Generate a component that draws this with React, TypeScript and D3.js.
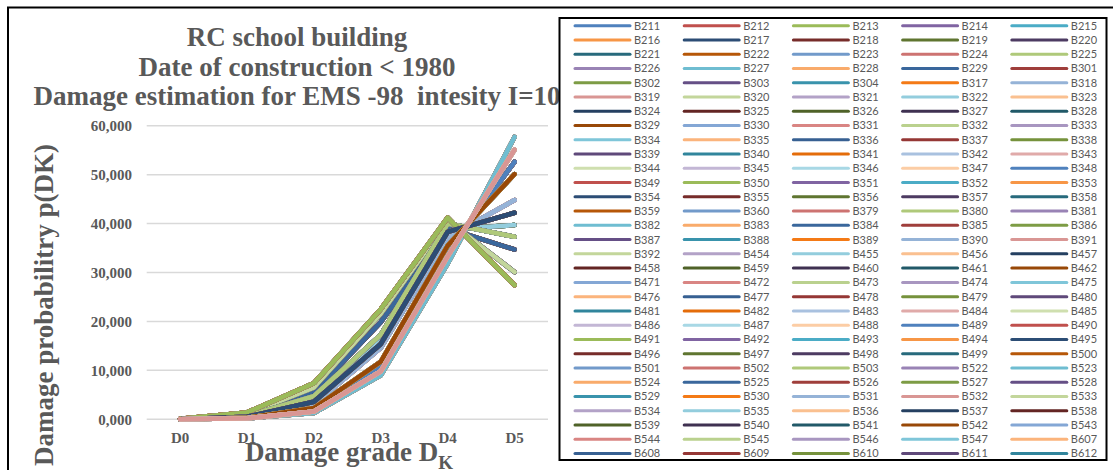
import React from 'react';
import * as d3 from 'd3';

// ---------- data ----------
const categories = ['D0', 'D1', 'D2', 'D3', 'D4', 'D5'];
const yTicks = [0, 10, 20, 30, 40, 50, 60];
const titleLines = [
  'RC school building',
  'Date of construction < 1980',
  'Damage estimation for EMS -98  intesity I=10',
];
const yAxisTitle = 'Damage probabilitry p(DK)';
const xAxisTitle = 'Damage grade D';
const xAxisSub = 'K';

// damage probability (%) per grade D0..D5, one array per distinct profile
const profileA = [0.1, 1.4, 7.4, 22.5, 41.2, 27.4];
const profileB = [0.1, 1.1, 6.5, 21.6, 40.6, 30.1];
const profileC = [0.05, 0.9, 5.5, 19.85, 39.0, 34.7];
const profileD = [0.0, 0.7, 4.7, 17.3, 40.0, 37.3];
const profileE = [0.0, 0.6, 4.2, 16.7, 38.8, 39.7];
const profileF = [0.0, 0.5, 3.6, 15.4, 38.3, 42.2];
const profileG = [0.0, 0.4, 3.0, 14.6, 37.2, 44.8];
const profileH = [0.0, 0.3, 2.3, 11.8, 35.5, 50.1];
const profileI = [0.0, 0.3, 1.9, 11.0, 34.2, 52.6];
const profileJ = [0.0, 0.2, 1.6, 9.8, 33.3, 55.1];
const profileK = [0.0, 0.2, 1.3, 9.0, 31.8, 57.7];

const buildings = [
  'B211', 'B212', 'B213', 'B214', 'B215', 'B216', 'B217', 'B218', 'B219', 'B220',
  'B221', 'B222', 'B223', 'B224', 'B225', 'B226', 'B227', 'B228', 'B229', 'B301',
  'B302', 'B303', 'B304', 'B317', 'B318', 'B319', 'B320', 'B321', 'B322', 'B323',
  'B324', 'B325', 'B326', 'B327', 'B328', 'B329', 'B330', 'B331', 'B332', 'B333',
  'B334', 'B335', 'B336', 'B337', 'B338', 'B339', 'B340', 'B341', 'B342', 'B343',
  'B344', 'B345', 'B346', 'B347', 'B348', 'B349', 'B350', 'B351', 'B352', 'B353',
  'B354', 'B355', 'B356', 'B357', 'B358', 'B359', 'B360', 'B379', 'B380', 'B381',
  'B382', 'B383', 'B384', 'B385', 'B386', 'B387', 'B388', 'B389', 'B390', 'B391',
  'B392', 'B454', 'B455', 'B456', 'B457', 'B458', 'B459', 'B460', 'B461', 'B462',
  'B471', 'B472', 'B473', 'B474', 'B475', 'B476', 'B477', 'B478', 'B479', 'B480',
  'B481', 'B482', 'B483', 'B484', 'B485', 'B486', 'B487', 'B488', 'B489', 'B490',
  'B491', 'B492', 'B493', 'B494', 'B495', 'B496', 'B497', 'B498', 'B499', 'B500',
  'B501', 'B502', 'B503', 'B522', 'B523', 'B524', 'B525', 'B526', 'B527', 'B528',
  'B529', 'B530', 'B531', 'B532', 'B533', 'B534', 'B535', 'B536', 'B537', 'B538',
  'B539', 'B540', 'B541', 'B542', 'B543', 'B544', 'B545', 'B546', 'B547', 'B607',
  'B608', 'B609', 'B610', 'B611', 'B612',
];

// which damage profile each building follows (estimated)
const buildingProfile =
  'IIAAIAFFAIFAIFDDKKCCDFKAGJBGEJBECKIH' +
  'JKHGFADIECB' + 'HJKFGDAICEB' + 'KJHGFIDAEBC' + 'JHKFGADCIEB' +
  'HKJGFDIAEBC' + 'JKHGFAIDCEB' + 'KHJFGDAIEBC' + 'JHKGFDIACEB' +
  'HJKFGADIECB' + 'KJHGFDAIBEC' + 'JHKGFDAIE';

// ---------- styling helpers ----------
const profiles: Record<string, number[]> = {
  A: profileA, B: profileB, C: profileC, D: profileD, E: profileE, F: profileF,
  G: profileG, H: profileH, I: profileI, J: profileJ, K: profileK,
};
const drawRank = ['I', 'E', 'C', 'K', 'G', 'B', 'D', 'A', 'F', 'H', 'J'];

const palette = [
  '#4F81BD', '#C0504D', '#9BBB59', '#8064A2', '#4BACC6', '#F79646',
  '#2C4D75', '#772C2A', '#5F7530', '#4D3B62', '#276A7C', '#B65708',
  '#729ACA', '#CD7371', '#AFC97A', '#9983B5', '#6FBDD1', '#F9AB6B',
  '#3A679C', '#9F3E3B', '#7D9C45', '#654F86', '#3993AC', '#F47A16',
  '#95B3D7', '#D99694', '#C3D69B', '#B3A2C7', '#93CDDD', '#FAC090',
  '#254061', '#632523', '#4F6228', '#3F3151', '#215968', '#984807',
  '#84A7D5', '#D98583', '#BAD18E', '#A896C0', '#7FC6D9', '#FBB47C',
  '#376092', '#953735', '#76923C', '#5F497A', '#31859C', '#E46C0A',
  '#A9C1DF', '#E0AAA9', '#CFDFAF', '#C3B7D5', '#A8D8E5', '#FCCDA5',
];

const TEXT = '#595959';
const SERIF = "'Liberation Serif', 'Times New Roman', serif";

export default function App() {
  const W = 1113;
  const H = 470;

  const x = d3.scalePoint<string>().domain(categories).range([146.7, 548]).padding(0.5);
  const y = d3.scaleLinear().domain([0, 60]).range([419.3, 125.7]);
  const line = d3
    .line<number>()
    .x((_, i) => x(categories[i]) as number)
    .y((d) => y(d));
  const fmt = (v: number) => d3.format('.3f')(v).replace('.', ',');

  const series = buildings.map((name, i) => {
    const g = buildingProfile[i];
    return { name, i, g, values: profiles[g], color: palette[i % palette.length] };
  });
  const drawOrder = [...series].sort((a, b) => {
    const r = drawRank.indexOf(a.g) - drawRank.indexOf(b.g);
    return r !== 0 ? r : b.i - a.i;
  });

  // legend layout
  const legCols = 5;
  const legX0 = 575;
  const legStepX = 109.2;
  const legY0 = 25.7;
  const legStepY = 14.26;

  return (
    <svg
      width={W}
      height={H}
      viewBox={`0 0 ${W} ${H}`}
      style={{ position: 'absolute', left: 0, top: 0, background: '#fff' }}
    >
      <rect x={0} y={0} width={W} height={H} fill="#fff" />
      {/* outer chart frame */}
      <rect x={8} y={7.5} width={1120} height={480} fill="#fff" stroke="#000" strokeWidth={2} />

      {/* title */}
      <g fontFamily={SERIF} fontWeight="bold" fontSize={27} fill={TEXT} textAnchor="middle">
        {titleLines.map((t, k) => (
          <text key={k} x={297} y={46 + k * 29.6} style={{ whiteSpace: 'pre' }}>
            {t}
          </text>
        ))}
      </g>

      {/* gridlines */}
      <g>
        {yTicks.map((t) => (
          <line key={t} x1={146.7} x2={548} y1={y(t)} y2={y(t)} stroke="#D9D9D9" strokeWidth={1.5} />
        ))}
      </g>

      {/* y tick labels */}
      <g fontFamily={SERIF} fontWeight="bold" fontSize={15} fill={TEXT} textAnchor="end">
        {yTicks.map((t) => (
          <text key={t} x={132} y={y(t)} dy="0.35em">
            {fmt(t)}
          </text>
        ))}
      </g>

      {/* x tick labels */}
      <g fontFamily={SERIF} fontWeight="bold" fontSize={15} fill={TEXT} textAnchor="middle">
        {categories.map((c) => (
          <text key={c} x={x(c)} y={443}>
            {c}
          </text>
        ))}
      </g>

      {/* series lines */}
      <g fill="none" strokeWidth={4.6} strokeLinejoin="round" strokeLinecap="round">
        {drawOrder.map((s) => (
          <path key={s.name} d={line(s.values) || ''} stroke={s.color} />
        ))}
      </g>

      {/* axis titles */}
      <text
        transform="translate(53,305) rotate(-90)"
        fontFamily={SERIF}
        fontWeight="bold"
        fontSize={27}
        fill={TEXT}
        textAnchor="middle"
      >
        {yAxisTitle}
      </text>
      <text x={349} y={461} fontFamily={SERIF} fontWeight="bold" fontSize={27} fill={TEXT} textAnchor="middle">
        {xAxisTitle}
        <tspan fontSize={19} dy={8}>
          {xAxisSub}
        </tspan>
      </text>

      {/* legend */}
      <rect x={559.5} y={18} width={547} height={442} fill="#fff" stroke="#000" strokeWidth={2} />
      <g fontFamily="Lato, 'Liberation Sans', sans-serif" fontSize={11} fill={TEXT}>
        {series.map((s) => {
          const c = s.i % legCols;
          const r = Math.floor(s.i / legCols);
          const lx = legX0 + c * legStepX;
          const ly = legY0 + r * legStepY;
          return (
            <g key={s.name}>
              <line x1={lx} x2={lx + 55} y1={ly} y2={ly} stroke={s.color} strokeWidth={3} strokeLinecap="round" />
              <text x={lx + 59} y={ly} dy="0.36em">
                {s.name}
              </text>
            </g>
          );
        })}
      </g>
    </svg>
  );
}
